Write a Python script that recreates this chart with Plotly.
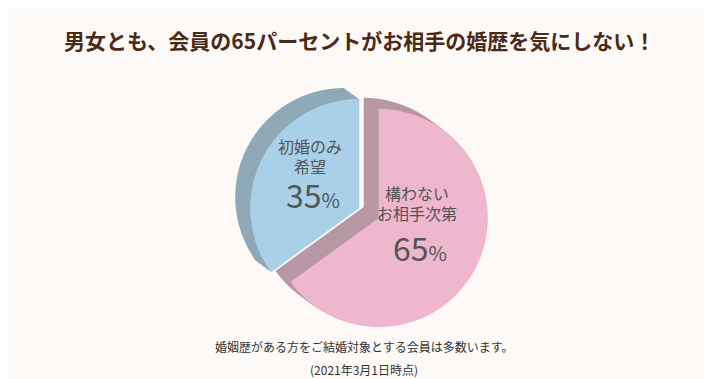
import plotly.graph_objects as go

categories = ["初婚のみ<br>希望", "構わない<br>お相手次第"]
values = [35, 65]
face_colors = ["#A9D0E8", "#EEB7CD"]
side_colors = ["#8FA9B8", "#B898A5"]
title_text = "男女とも、会員の65パーセントがお相手の婚歴を気にしない！"
note_lines = ["婚姻歴がある方をご結婚対象とする会員は多数います。", "(2021年3月1日時点)"]

W, H = 712, 379
BG = "#FCF9F6"
FONT = "Noto Sans CJK JP"

cx, cy = 361, 205       # pie centre (px)
D = 240                 # domain size (px)
pull = [0.10, 0.10]
depth = (-15, -11)      # extrusion offset (px)
layers = 12
DY = -10                # annotation vertical correction (px)

def domain(ox, oy):
    x0 = (cx + ox - D / 2) / W
    x1 = (cx + ox + D / 2) / W
    y0 = 1 - (cy + oy + D / 2) / H
    y1 = 1 - (cy + oy - D / 2) / H
    return dict(x=[x0, x1], y=[y0, y1])

fig = go.Figure()
for k in range(layers, 0, -1):
    f = k / layers
    fig.add_trace(go.Pie(
        labels=categories, values=values, sort=False, direction="clockwise",
        rotation=-126, pull=pull, textinfo="none", hoverinfo="skip",
        marker=dict(colors=side_colors, line=dict(width=0)),
        domain=domain(depth[0] * f, depth[1] * f), showlegend=False,
    ))
fig.add_trace(go.Pie(
    labels=categories, values=values, sort=False, direction="clockwise",
    rotation=-126, pull=pull, textinfo="none",
    marker=dict(colors=face_colors, line=dict(width=0)),
    domain=domain(0, 0), showlegend=False,
))

label_pos = [(302, 158, 196), (409, 205, 249)]  # x, label centre y, percent y (px)
annotations = []
for cat, v, (lx, ly, py) in zip(categories, values, label_pos):
    annotations.append(dict(
        x=lx / W, y=1 - (ly + DY) / H, xref="paper", yref="paper", showarrow=False,
        text=cat, font=dict(family=FONT, size=16, color="#555555"),
        xanchor="center", yanchor="middle", height=40, borderpad=0,
    ))
    annotations.append(dict(
        x=lx / W + 0.004, y=1 - (py + DY) / H, xref="paper", yref="paper", showarrow=False,
        text=f"{v}<span style='font-size:20px'>%</span>",
        font=dict(family=FONT, size=32, color="#555555"),
        xanchor="center", yanchor="middle", height=34, borderpad=0,
    ))

annotations.append(dict(
    x=351.5 / W, y=1 - (42 + DY) / H, xref="paper", yref="paper", showarrow=False,
    text=f"<b>{title_text}</b>", font=dict(family=FONT, size=21, color="#4A2A15"),
    xanchor="center", yanchor="middle",
))
for txt, yy in zip(note_lines, [348, 371]):
    annotations.append(dict(
        x=0.5, y=1 - (yy + DY) / H, xref="paper", yref="paper", showarrow=False,
        text=txt, font=dict(family=FONT, size=12, color="#333333"),
        xanchor="center", yanchor="middle",
    ))

fig.update_layout(
    width=W, height=H, margin=dict(l=0, r=0, t=0, b=0),
    paper_bgcolor=BG, plot_bgcolor=BG, annotations=annotations, showlegend=False,
)
fig.write_html("out.html")
